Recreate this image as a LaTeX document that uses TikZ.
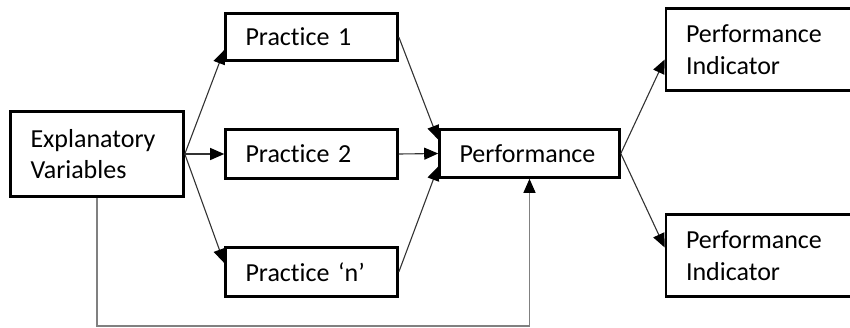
\documentclass[tikz,border=0pt]{standalone}
\usepackage{fontspec}
\setmainfont{Carlito}[Ligatures=NoCommon]
\usetikzlibrary{arrows.meta}
\begin{document}
\begin{tikzpicture}[x=1pt, y=-1pt,
  box/.style={draw, line width=2.6pt, rectangle, anchor=center,
    inner xsep=20pt, inner ysep=0pt, align=left,
    font=\fontsize{26}{31.5}\selectfont},
  conn/.style={draw=black!80, line width=1.1pt,
    -{Triangle[length=14pt, width=12pt, fill=black, color=black]}},
  feedback/.style={conn, draw=black!50}]
\useasboundingbox (0,0) rectangle (850,327);

% boxes
\node[box, text width=133pt, minimum height=85pt] (E)  at (97,154)    {Explanatory\\Variables};
\node[box, text width=132pt, minimum height=47pt] (P1) at (311.5,37)  {Practice 1};
\node[box, text width=132pt, minimum height=49pt] (P2) at (311.5,154) {Practice 2};
\node[box, text width=132pt, minimum height=49pt] (Pn) at (311.5,272) {Practice ‘n’};
\node[box, text width=140pt, minimum height=48pt] (Perf) at (529.5,153.5) {Performance};
\node[box, text width=154pt, minimum height=82pt] (I1) at (763,49.5)  {Performance\\Indicator};
\node[box, text width=154pt, minimum height=82pt] (I2) at (763,255.5) {Performance\\Indicator};

% explanatory variables to practices
\draw[conn] (E.east) -- ([yshift=-13pt]P1.west);
\draw[conn] (E.east) -- (P2.west);
\draw[conn] (E.east) -- ([yshift=9pt]Pn.west);

% practices to performance
\draw[conn] (P1.east) -- ([yshift=14pt]Perf.west);
\draw[conn] (P2.east) -- (Perf.west);
\draw[conn] (Pn.east) -- ([yshift=-13pt]Perf.west);

% performance to indicators
\draw[conn] (Perf.east) -- ([yshift=-10pt]I1.west);
\draw[conn] (Perf.east) -- ([yshift=8pt]I2.west);

% direct path from explanatory variables to performance
\coordinate (turn) at (97,326);
\draw[feedback] (E.south) -- (turn) -| (Perf.south);
\end{tikzpicture}
\end{document}
